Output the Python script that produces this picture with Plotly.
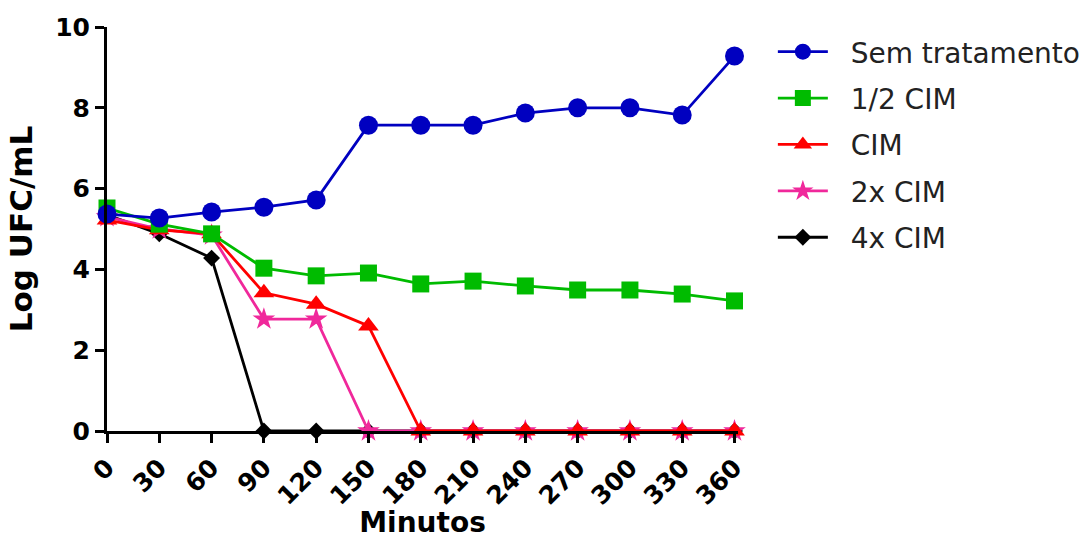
import plotly.graph_objects as go

minutes = [0, 30, 60, 90, 120, 150, 180, 210, 240, 270, 300, 330, 360]
sem_tratamento = [5.37, 5.27, 5.42, 5.54, 5.72, 7.57, 7.57, 7.57, 7.87, 8.0, 8.0, 7.82, 9.28]
meio_cim = [5.52, 5.12, 4.88, 4.03, 3.84, 3.91, 3.64, 3.71, 3.59, 3.49, 3.49, 3.39, 3.22]
cim = [5.22, 4.98, 4.88, 3.42, 3.14, 2.6, 0, 0, 0, 0, 0, 0, 0]
cim2x = [5.3, 5.0, 4.85, 2.77, 2.77, 0, 0, 0, 0, 0, 0, 0, 0]
cim4x = [5.35, 4.88, 4.28, 0, 0, 0, 0, 0, 0, 0, 0, 0, 0]

# drawn bottom-to-top; legend rank gives the reference's legend order
series = [
    ("4x CIM", cim4x, "#000000", "diamond", 13, 5),
    ("2x CIM", cim2x, "#F0289B", "star", 17, 4),
    ("CIM", cim, "#FF0000", "triangle-up", 18, 3),
    ("1/2 CIM", meio_cim, "#00BB00", "square", 17, 2),
    ("Sem tratamento", sem_tratamento, "#0000C0", "circle", 19, 1),
]

FONT = "DejaVu Sans"
NBSP = "\u00a0\u00a0"
fig = go.Figure()
for name, vals, color, sym, size, rank in series:
    fig.add_trace(go.Scatter(
        x=minutes, y=vals, name=NBSP + name, mode="lines+markers",
        line=dict(color=color, width=2.8),
        marker=dict(symbol=sym, size=size, color=color),
        cliponaxis=False, legendgroup=name, legendrank=rank,
    ))

fig.update_layout(
    width=1087, height=539,
    margin=dict(l=107, r=349, t=27, b=108),
    paper_bgcolor="white", plot_bgcolor="white",
    font=dict(family=FONT, color="black"),
    showlegend=True,
    legend=dict(
        xref="container", yref="container",
        x=0.711, y=0.95, xanchor="left", yanchor="top",
        font=dict(family=FONT, size=28, color="#222222"),
        traceorder="grouped", tracegroupgap=7, itemwidth=50,
        bgcolor="rgba(0,0,0,0)",
    ),
    xaxis=dict(
        range=[0, 362], tickvals=minutes, ticktext=[str(m) for m in minutes],
        tickangle=-45, showgrid=False, zeroline=False, automargin=False,
        showline=True, linecolor="black", linewidth=3,
        ticks="outside", ticklen=9, tickwidth=3, tickcolor="black",
        tickfont=dict(family=FONT, size=25, color="black", weight="bold"),
        title=dict(text="<b>Minutos</b>", font=dict(family=FONT, size=28, color="black"), standoff=5),
    ),
    yaxis=dict(
        range=[0, 10], tickvals=[0, 2, 4, 6, 8, 10],
        showgrid=False, zeroline=False, automargin=False,
        showline=True, linecolor="black", linewidth=3,
        ticks="outside", ticklen=9, tickwidth=3, tickcolor="black",
        tickfont=dict(family=FONT, size=25, color="black", weight="bold"),
        title=dict(text="<b>Log UFC/mL</b>", font=dict(family=FONT, size=31, color="black"), standoff=14),
    ),
)

fig.write_html(
    "out.html",
    config={"displayModeBar": False},
    post_script="document.body.style.margin='0px';document.body.style.overflow='hidden';",
)
